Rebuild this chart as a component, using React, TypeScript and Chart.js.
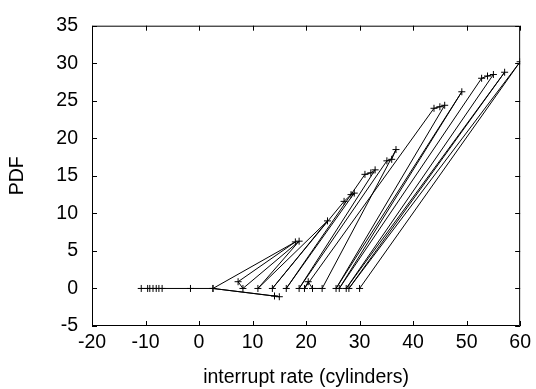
import React, { useEffect, useRef } from "react";
import { Chart, registerables } from "chart.js";

Chart.register(...registerables);

// Points in drawing order (x = interrupt rate, y = PDF)
const xValues = [
  -10.8, -9.6, -9.2, -8.6, -8.0, -7.5, -6.9, -1.6, 2.6, 14.1, 15.0, 2.6,
  18.0, 7.3, 8.2, 18.7, 11.0, 24.0, 13.7, 27.1, 28.4, 29.0, 16.3, 31.0, 32.1, 32.9,
  18.7, 35.1, 36.0, 36.8, 23.0, 21.2, 20.4, 19.7,
  43.9, 45.0, 45.9, 25.6, 49.1, 26.2, 52.8, 53.9, 55.0, 27.5, 57.1, 28.0, 60.0, 30.0,
];
const yValues = [
  0, 0, 0, 0, 0, 0, 0, 0, 0, -1.0, -1.1, 0,
  6.2, 0.9, 0, 6.3, 0, 9.0, 0, 11.6, 12.5, 12.7, 0, 15.2, 15.4, 15.8,
  0, 17.0, 17.2, 18.5, 0, 0, 0.9, 0,
  24.0, 24.2, 24.4, 0, 26.2, 0, 28.0, 28.3, 28.5, 0, 28.8, 0, 30.2, 0,
];
const xTicks = [-20, -10, 0, 10, 20, 30, 40, 50, 60];
const yTicks = [-5, 0, 5, 10, 15, 20, 25, 30, 35];

const FONT = "'Liberation Sans', Arial, sans-serif";

const framePlugin = {
  id: "frameTicks",
  afterDraw(chart: any) {
    const { ctx, chartArea } = chart;
    const { left, right, top, bottom } = chartArea;
    const xs = chart.scales.x;
    const ys = chart.scales.y;
    const tl = 5;
    ctx.save();
    ctx.strokeStyle = "#000";
    ctx.lineWidth = 1;
    ctx.beginPath();
    ctx.rect(left + 0.5, top + 0.5, right - left - 1, bottom - top - 1);
    for (const v of xTicks) {
      const px = Math.round(xs.getPixelForValue(v)) + 0.5;
      ctx.moveTo(px, bottom);
      ctx.lineTo(px, bottom - tl);
      ctx.moveTo(px, top);
      ctx.lineTo(px, top + tl);
    }
    for (const v of yTicks) {
      const py = Math.round(ys.getPixelForValue(v)) + 0.5;
      ctx.moveTo(left, py);
      ctx.lineTo(left + tl, py);
      ctx.moveTo(right, py);
      ctx.lineTo(right - tl, py);
    }
    ctx.stroke();
    ctx.restore();
  },
};

export default function App() {
  const ref = useRef<HTMLCanvasElement | null>(null);
  useEffect(() => {
    document.body.style.margin = "0";
    const canvas = ref.current!;
    const data = xValues.map((x, i) => ({ x, y: yValues[i] }));
    const chart = new Chart(canvas, {
      type: "scatter",
      data: {
        datasets: [
          {
            data,
            showLine: true,
            borderColor: "#000",
            borderWidth: 1,
            pointStyle: "cross",
            pointRadius: 3.5,
            pointBorderColor: "#000",
            pointBorderWidth: 1,
            pointBackgroundColor: "#000",
            tension: 0,
          },
        ],
      },
      options: {
        animation: false,
        responsive: false,
        maintainAspectRatio: false,
        events: [],
        layout: { padding: { left: 0, right: 15, top: 15, bottom: 0 } },
        plugins: { legend: { display: false }, tooltip: { enabled: false } },
        scales: {
          x: {
            type: "linear",
            min: -20,
            max: 60,
            afterBuildTicks: (s: any) => {
              s.ticks = xTicks.map((v) => ({ value: v }));
            },
            afterFit: (s: any) => {
              s.height = 63;
            },
            grid: { display: false, drawTicks: false },
            border: { display: false },
            ticks: {
              color: "#000",
              padding: 5,
              maxRotation: 0,
              autoSkip: false,
              font: { family: FONT, size: 19.5 },
            },
            title: {
              display: true,
              text: "interrupt rate (cylinders)",
              color: "#000",
              padding: { top: 0, bottom: 0 },
              font: { family: FONT, size: 19.5 },
            },
          },
          y: {
            type: "linear",
            min: -5,
            max: 35,
            afterBuildTicks: (s: any) => {
              s.ticks = yTicks.map((v) => ({ value: v }));
            },
            afterFit: (s: any) => {
              s.width = 92;
            },
            grid: { display: false, drawTicks: false },
            border: { display: false },
            ticks: {
              color: "#000",
              padding: 14,
              autoSkip: false,
              font: { family: FONT, size: 19.5 },
            },
            title: {
              display: true,
              text: "PDF",
              color: "#000",
              padding: { top: 6, bottom: 0 },
              font: { family: FONT, size: 19.5 },
            },
          },
        },
      },
      plugins: [framePlugin],
    });
    return () => chart.destroy();
  }, []);
  return (
    <div style={{ position: "absolute", left: 0, top: 0, width: 536, height: 389, background: "#fff" }}>
      <canvas ref={ref} width={536} height={389} style={{ width: 536, height: 389, display: "block" }} />
    </div>
  );
}
